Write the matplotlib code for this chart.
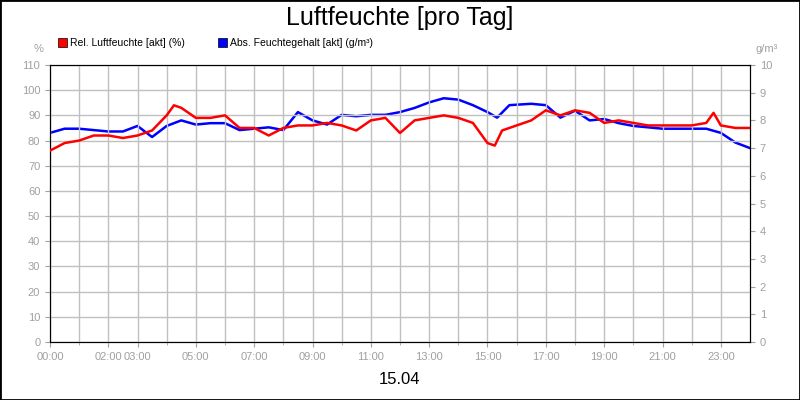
import matplotlib
matplotlib.use("Agg")
import matplotlib.pyplot as plt
import numpy as np
plt.rcParams['font.family'] = ['Liberation Sans', 'DejaVu Sans']

rel_t = [0,0.5,1,1.5,2,2.5,3,3.5,4,4.25,4.5,5,5.5,6,6.5,7,7.5,8,8.5,9,9.5,10,10.5,11,11.5,12,12.5,13,13.5,14,14.5,15,15.25,15.5,16,16.5,17,17.5,18,18.5,19,19.5,20,20.5,21,21.5,22,22.5,22.75,23,23.5,24]
rel_v = [76,79,80,82,82,81,82,84,90,94,93,89,89,90,85,85,82,85,86,86,87,86,84,88,89,83,88,89,90,89,87,79,78,84,86,88,92,90,92,91,87,88,87,86,86,86,86,87,91,86,85,85]
abs_t = [0,0.5,1,1.5,2,2.5,3,3.5,4,4.5,5,5.5,6,6.5,7,7.5,8,8.5,9,9.5,10,10.5,11,11.5,12,12.5,13,13.5,14,14.5,15,15.33,15.75,16.5,17,17.5,18,18.5,19,19.5,20,20.5,21,21.5,22,22.5,23,23.5,24]
abs_v = [7.55,7.7,7.7,7.65,7.6,7.6,7.8,7.4,7.8,8.0,7.85,7.9,7.9,7.65,7.7,7.75,7.65,8.3,8.0,7.85,8.2,8.15,8.2,8.2,8.3,8.45,8.65,8.8,8.75,8.55,8.3,8.1,8.55,8.6,8.55,8.1,8.35,8.0,8.05,7.9,7.8,7.75,7.7,7.7,7.7,7.7,7.55,7.2,7.0]
xtick_hours = [0,2,3,5,7,9,11,13,15,17,19,21,23]

fig = plt.figure(figsize=(8,4), dpi=100)
fig.patches.append(plt.Rectangle((0,0),1,1,transform=fig.transFigure,fill=False,edgecolor='black',lw=2))
ax = fig.add_axes([0.0625,0.145,0.875,0.6925])
ax2 = ax.twinx()
ax.plot(rel_t, rel_v, color='#ff0000', lw=1.8, zorder=3)
ax2.plot(abs_t, abs_v, color='#0000ff', lw=1.8)
ax.set_zorder(ax2.get_zorder()+1); ax.patch.set_visible(False)
ax.set_xlim(0,24); ax.set_ylim(0,110); ax2.set_ylim(0,10)
ax.set_yticks(range(0,111,10)); ax2.set_yticks(range(0,11))
ax.set_xticks(xtick_hours)
ax.set_xticks(range(0,24), minor=True)
ax.set_xticklabels([f"{h:02d}:00" for h in xtick_hours])
ax.grid(True, which='both', color='#c0c0c0', lw=1)
for a in (ax, ax2):
    a.tick_params(colors='#a0a0a0', labelsize=8, which='both')
    for s in a.spines.values(): s.set_color('black')
fig.text(0.5,0.955,"Luftfeuchte [pro Tag]",ha='center',va='center',fontsize=18)
fig.text(0.5,0.05,"15.04",ha='center',va='center',fontsize=12)
fig.text(0.055,0.87,"%",ha='right',fontsize=8,color='#a0a0a0')
fig.text(0.945,0.87,"g/m³",ha='left',fontsize=8,color='#a0a0a0')
fig.patches.append(plt.Rectangle((0.073,0.882),0.011,0.022,transform=fig.transFigure,facecolor='red',edgecolor='black',lw=0.5))
fig.text(0.088,0.893,"Rel. Luftfeuchte [akt] (%)",va='center',fontsize=7.5)
fig.patches.append(plt.Rectangle((0.273,0.882),0.011,0.022,transform=fig.transFigure,facecolor='blue',edgecolor='black',lw=0.5))
fig.text(0.288,0.893,"Abs. Feuchtegehalt [akt] (g/m³)",va='center',fontsize=7.5)
fig.savefig("out.png")
